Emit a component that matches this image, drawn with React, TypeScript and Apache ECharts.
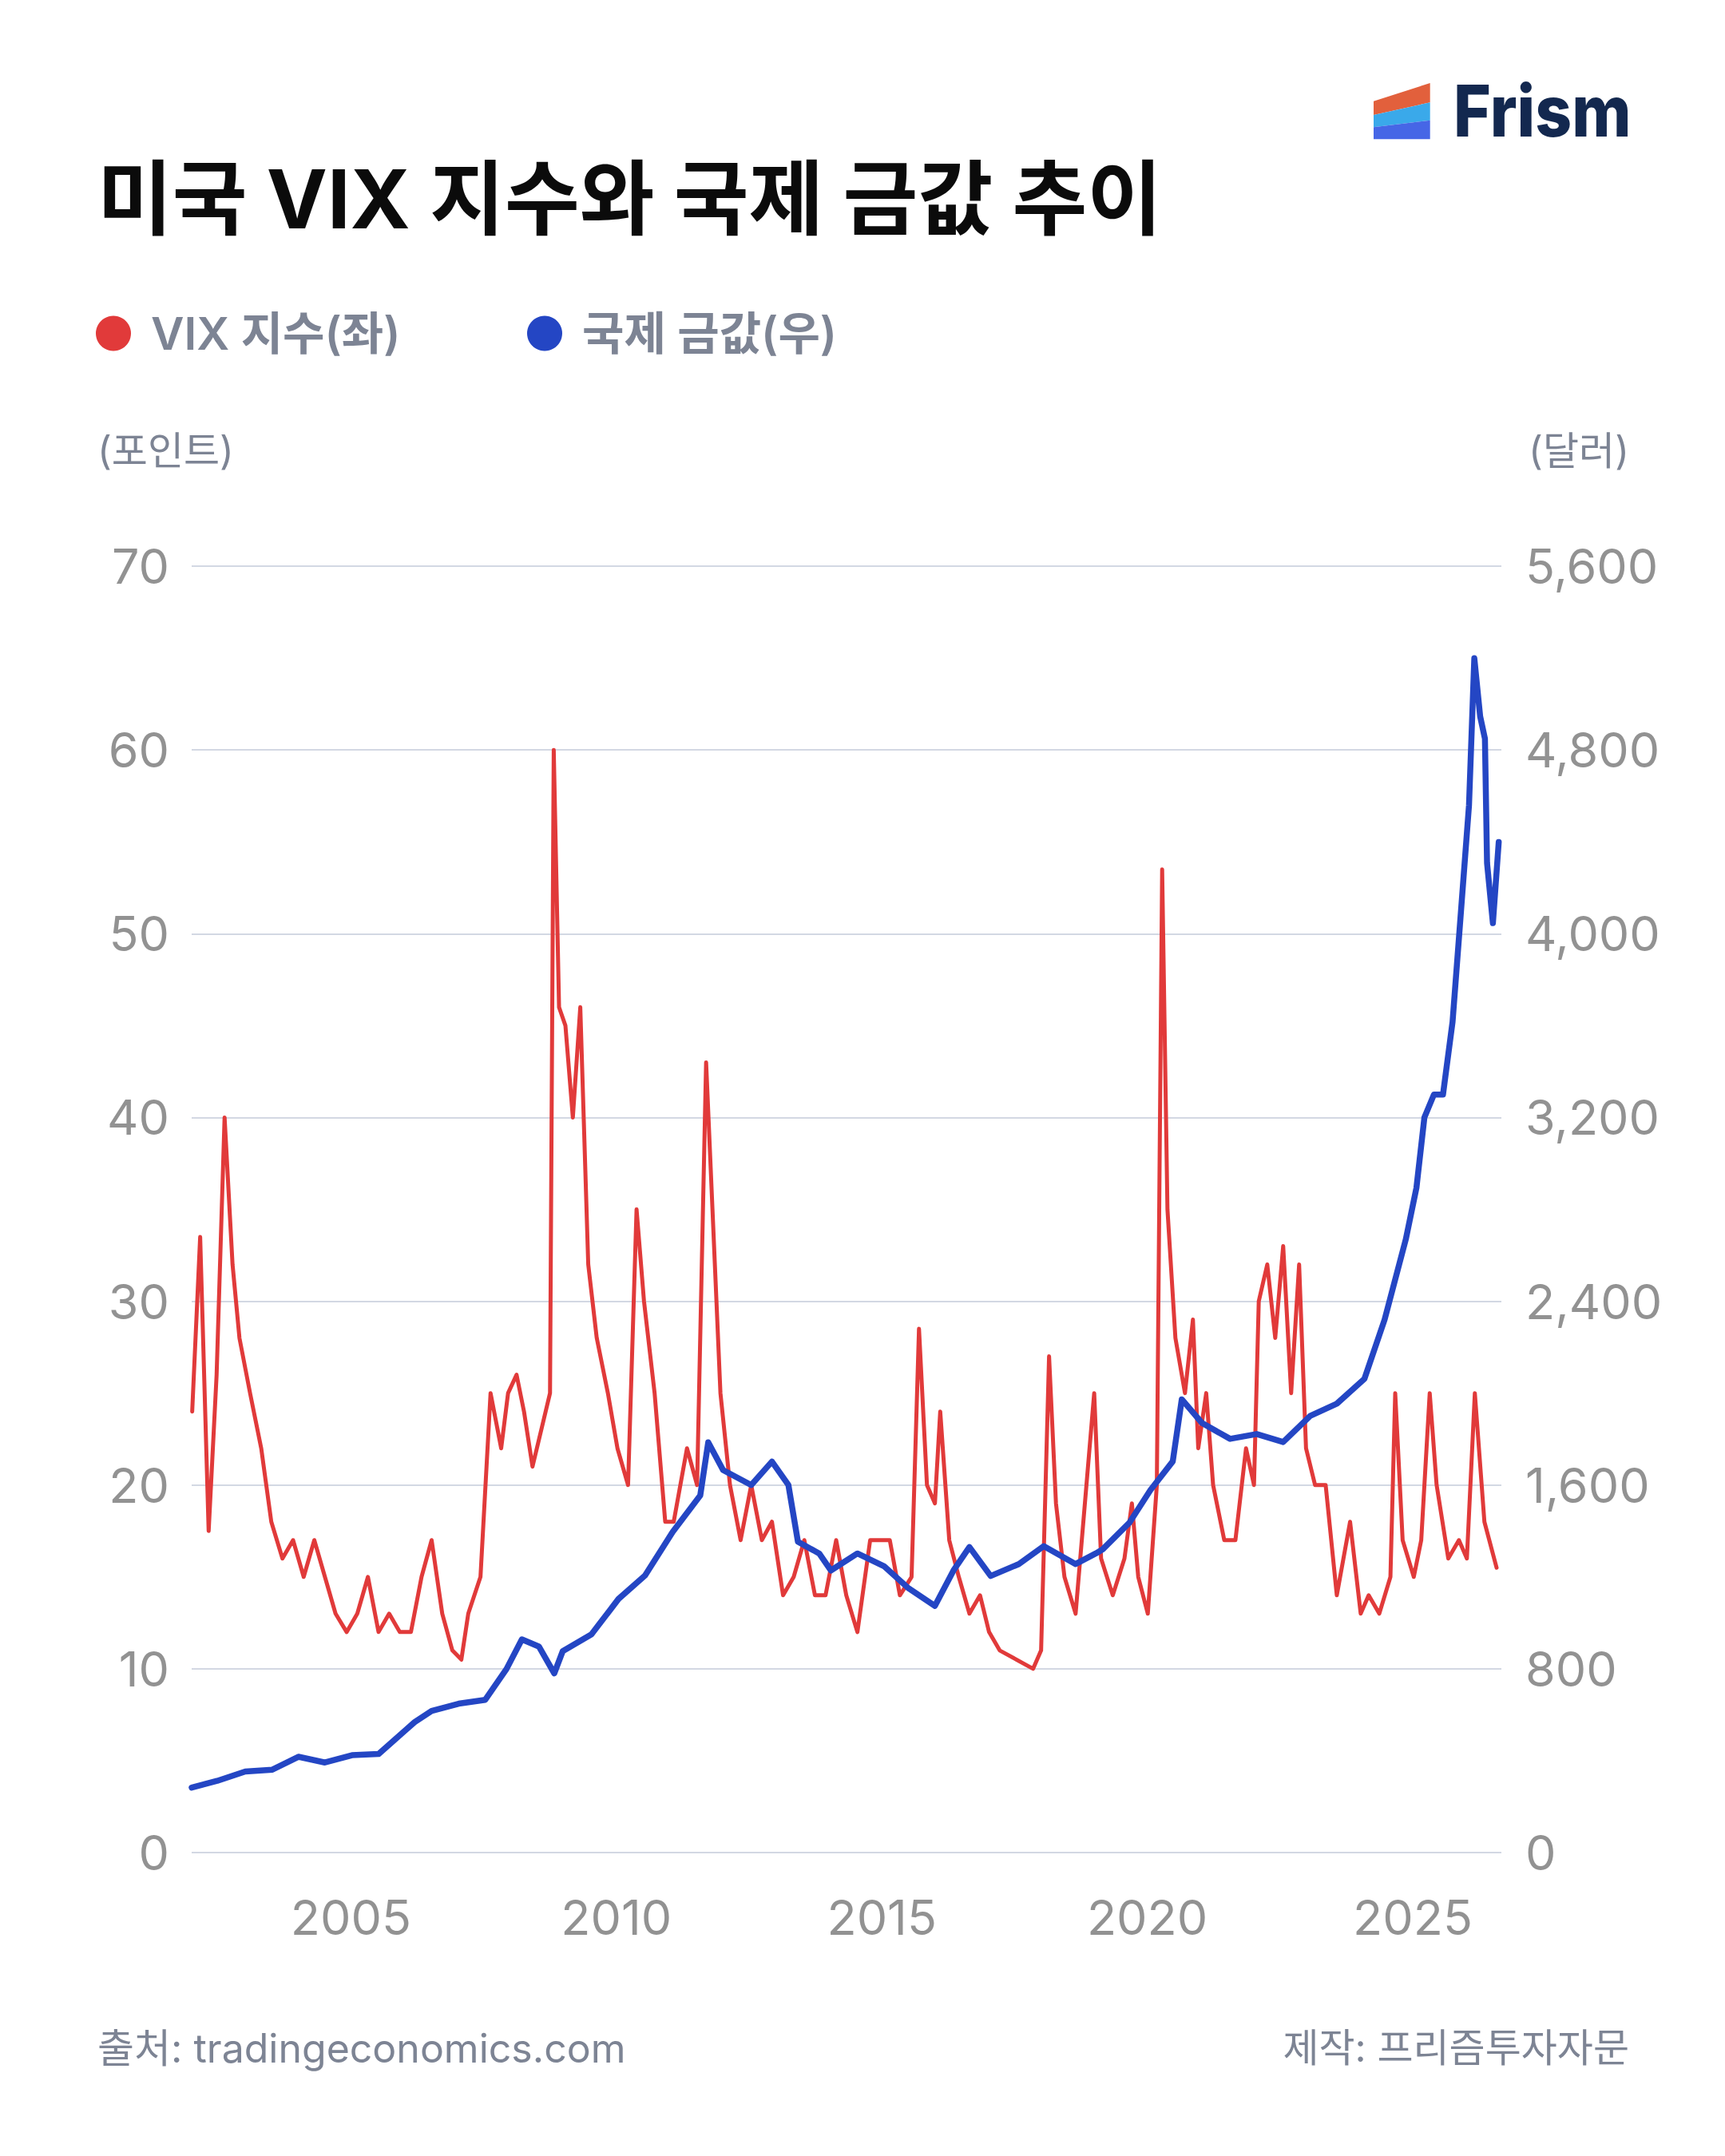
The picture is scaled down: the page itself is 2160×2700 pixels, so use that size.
import React, { useEffect, useRef } from "react";
import * as echarts from "echarts";

// ---- data ----
const vixDates = [
  2002.01, 2002.16, 2002.32, 2002.47, 2002.62, 2002.77, 2002.9, 2003.1, 2003.31, 2003.5,
  2003.71, 2003.91, 2004.11, 2004.31, 2004.51, 2004.71, 2004.92, 2005.12, 2005.32, 2005.52,
  2005.72, 2005.92, 2006.13, 2006.33, 2006.52, 2006.72, 2006.91, 2007.08, 2007.21, 2007.44,
  2007.63, 2007.83, 2007.96, 2008.12, 2008.26, 2008.42, 2008.75, 2008.82, 2008.92, 2009.04,
  2009.18, 2009.32, 2009.47, 2009.63, 2009.84, 2010.02, 2010.22, 2010.38, 2010.52, 2010.72,
  2010.92, 2011.08, 2011.33, 2011.52, 2011.69, 2011.81, 2011.96, 2012.14, 2012.34, 2012.54,
  2012.74, 2012.93, 2013.14, 2013.34, 2013.54, 2013.74, 2013.94, 2014.14, 2014.33, 2014.54,
  2014.78, 2015.15, 2015.34, 2015.56, 2015.7, 2015.85, 2016.0, 2016.1, 2016.27, 2016.45,
  2016.65, 2016.85, 2017.02, 2017.22, 2017.85, 2018.0, 2018.15, 2018.28, 2018.44, 2018.65,
  2019.0, 2019.13, 2019.35, 2019.57, 2019.71, 2019.83, 2020.01, 2020.18, 2020.28, 2020.38,
  2020.53, 2020.71, 2020.86, 2020.96, 2021.11, 2021.24, 2021.45, 2021.66, 2021.86, 2022.01,
  2022.1, 2022.26, 2022.41, 2022.56, 2022.71, 2022.86, 2022.99, 2023.16, 2023.36, 2023.57,
  2023.82, 2024.02, 2024.17, 2024.37, 2024.58, 2024.67, 2024.81, 2025.02, 2025.16, 2025.32,
  2025.45, 2025.67, 2025.87, 2026.02, 2026.17, 2026.35, 2026.58,
];
const vixValues = [
  24, 33.5, 17.5, 26, 40, 32, 28, 25, 22, 18,
  16, 17, 15, 17, 15, 13, 12, 13, 15, 12,
  13, 12, 12, 15, 17, 13, 11, 10.5, 13, 15,
  25, 22, 25, 26, 24, 21, 25, 60, 46, 45,
  40, 46, 32, 28, 25, 22, 20, 35, 30, 25,
  18, 18, 22, 20, 43, 35, 25, 20, 17, 20,
  17, 18, 14, 15, 17, 14, 14, 17, 14, 12,
  17, 17, 14, 15, 28.5, 20, 19, 24, 17, 15,
  13, 14, 12, 11, 10, 11, 27, 19, 15, 13,
  25, 16, 14, 16, 19, 15, 13, 20, 53.5, 35,
  28, 25, 29, 22, 25, 20, 17, 17, 22, 20,
  30, 32, 28, 33, 25, 32, 22, 20, 20, 14,
  18, 13, 14, 13, 15, 25, 17, 15, 17, 25,
  20, 16, 17, 16, 25, 18, 15.5,
];

const goldDates = [
  2002.0, 2002.48, 2003.01, 2003.52, 2004.01, 2004.51, 2005.02, 2005.52, 2006.2, 2006.52,
  2007.03, 2007.53, 2007.93, 2008.22, 2008.54, 2008.83, 2008.99, 2009.53, 2010.04, 2010.54,
  2011.06, 2011.58, 2011.73, 2012.01, 2012.54, 2012.93, 2013.24, 2013.42, 2013.82, 2014.04,
  2014.54, 2015.04, 2015.49, 2016.0, 2016.35, 2016.65, 2017.05, 2017.58, 2018.05, 2018.65,
  2019.03, 2019.16, 2019.66, 2020.06, 2020.48, 2020.65, 2021.03, 2021.56, 2022.06, 2022.56,
  2023.07, 2023.57, 2024.09, 2024.47, 2024.87, 2025.07, 2025.22, 2025.4, 2025.57, 2025.75,
  2025.9, 2026.06, 2026.16, 2026.27, 2026.36, 2026.4, 2026.51, 2026.62,
];
const goldValues = [
  283, 312, 353, 361, 417, 392, 424, 429, 568, 617,
  648, 665, 799, 928, 897, 780, 877, 950, 1104, 1206,
  1396, 1555, 1786, 1665, 1600, 1702, 1600, 1353, 1302, 1228,
  1302, 1247, 1153, 1074, 1228, 1330, 1204, 1256, 1334, 1256,
  1302, 1320, 1435, 1578, 1703, 1973, 1870, 1801, 1822, 1787,
  1901, 1954, 2062, 2320, 2670, 2894, 3200, 3300, 3300, 3616,
  4071, 4559, 5199, 4946, 4849, 4307, 4046, 4399,
];

const xLabelYears = [2005, 2010, 2015, 2020, 2025];
const vixAxis = { min: 0, max: 70, step: 10 };
const goldAxis = { min: 0, max: 5600, step: 800 };
const xRange = { min: 2002, max: 2026.67 };

const seriesNames = ["VIX 지수(좌)", "국제 금값(우)"];
const titleText = "미국 VIX 지수와 국제 금값 추이";
const leftUnit = "(포인트)";
const rightUnit = "(달러)";
const sourceText = "출처: tradingeconomics.com";
const makerText = "제작: 프리즘투자자문";

const FONT = "Inter, 'Noto Sans CJK KR', sans-serif";
const RED = "#e13a3a";
const BLUE = "#2446c4";
const MUTED = "#7d8494";
const TICK = "#929292";

export default function App() {
  const ref = useRef<HTMLDivElement>(null);

  useEffect(() => {
    document.body.style.margin = "0";
    if (!ref.current) return;
    const chart = echarts.init(ref.current, undefined, { renderer: "svg" });

    const legendText = {
      fontFamily: FONT,
      fontSize: 57,
      fontWeight: 600,
      color: MUTED,
      padding: [0, 0, 0, 20],
    };

    const option: any = {
      animation: false,
      backgroundColor: "#ffffff",
      textStyle: { fontFamily: FONT },
      grid: { left: 240, right: 280, top: 709, bottom: 380, containLabel: false },
      legend: [
        {
          data: [seriesNames[0]],
          left: 115,
          top: 384,
          icon: "circle",
          itemWidth: 44,
          itemHeight: 44,
          selectedMode: false,
          textStyle: legendText,
        },
        {
          data: [seriesNames[1]],
          left: 655,
          top: 384,
          icon: "circle",
          itemWidth: 44,
          itemHeight: 44,
          selectedMode: false,
          textStyle: legendText,
        },
      ],
      xAxis: {
        type: "value",
        min: xRange.min,
        max: xRange.max,
        interval: 1,
        axisLine: { show: false },
        axisTick: { show: false },
        splitLine: { show: false },
        axisLabel: {
          fontFamily: FONT,
          fontSize: 61,
          color: TICK,
          margin: 50,
          formatter: (v: number) =>
            xLabelYears.indexOf(Math.round(v)) >= 0 && Math.abs(v - Math.round(v)) < 1e-6
              ? String(Math.round(v))
              : "",
        },
      },
      yAxis: [
        {
          type: "value",
          min: vixAxis.min,
          max: vixAxis.max,
          interval: vixAxis.step,
          position: "left",
          axisLine: { show: false },
          axisTick: { show: false },
          splitLine: { show: true, lineStyle: { color: "#d3d8e3", width: 2 } },
          axisLabel: { fontFamily: FONT, fontSize: 61, color: TICK, margin: 28 },
        },
        {
          type: "value",
          min: goldAxis.min,
          max: goldAxis.max,
          interval: goldAxis.step,
          position: "right",
          axisLine: { show: false },
          axisTick: { show: false },
          splitLine: { show: false },
          axisLabel: {
            fontFamily: FONT,
            fontSize: 61,
            color: TICK,
            margin: 30,
            formatter: (v: number) => v.toLocaleString("en-US"),
          },
        },
      ],
      series: [
        {
          name: seriesNames[0],
          type: "line",
          yAxisIndex: 0,
          data: vixDates.map((d, i) => [d, vixValues[i]]),
          symbol: "none",
          itemStyle: { color: RED },
          lineStyle: { color: RED, width: 5, join: "round", cap: "round" },
          z: 2,
        },
        {
          name: seriesNames[1],
          type: "line",
          yAxisIndex: 1,
          data: goldDates.map((d, i) => [d, goldValues[i]]),
          symbol: "none",
          itemStyle: { color: BLUE },
          lineStyle: { color: BLUE, width: 7.5, join: "round", cap: "round" },
          z: 3,
        },
      ],
      graphic: [
        {
          type: "text",
          left: 122,
          top: 198,
          style: {
            text: titleText,
            fontFamily: FONT,
            fontSize: 102,
            fontWeight: 700,
            fill: "#0b0b0b",
          },
        },
        {
          type: "polygon",
          shape: { points: [[1720, 126.7], [1790.7, 104], [1790.7, 128.3], [1720, 144]] },
          style: { fill: "#e2603c" },
        },
        {
          type: "polygon",
          shape: { points: [[1720, 144], [1790.7, 128.3], [1790.7, 150.7], [1720, 159.3]] },
          style: { fill: "#3aa9ea" },
        },
        {
          type: "polygon",
          shape: { points: [[1720, 159.3], [1790.7, 150.7], [1790.7, 174.3], [1720, 174.3]] },
          style: { fill: "#4666e6" },
        },
        {
          type: "text",
          x: 1820,
          y: 94,
          scaleX: 0.9,
          style: {
            text: "Frism",
            fontFamily: FONT,
            fontSize: 89,
            fontWeight: 800,
            fill: "#13284f",
          },
        },
        {
          type: "text",
          left: 122,
          top: 540,
          style: { text: leftUnit, fontFamily: FONT, fontSize: 49, fill: MUTED },
        },
        {
          type: "text",
          right: 120,
          top: 540,
          style: { text: rightUnit, fontFamily: FONT, fontSize: 49, fill: MUTED },
        },
        {
          type: "text",
          left: 122,
          top: 2540,
          style: { text: sourceText, fontFamily: FONT, fontSize: 50, fill: MUTED },
        },
        {
          type: "text",
          right: 120,
          top: 2540,
          style: { text: makerText, fontFamily: FONT, fontSize: 49, fill: MUTED },
        },
      ],
    };

    chart.setOption(option);
    return () => chart.dispose();
  }, []);

  return <div ref={ref} style={{ width: 2160, height: 2700 }} />;
}
